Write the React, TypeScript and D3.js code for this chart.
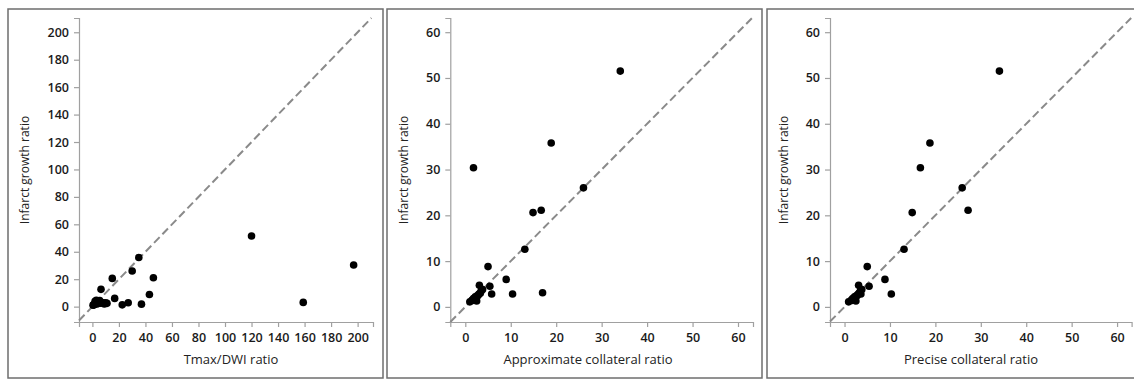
import React, { useEffect, useRef } from 'react';
import * as d3 from 'd3';

// Infarct growth ratio per patient (shared y values)
const infarctGrowth = [51.5, 35.8, 30.4, 26.0, 21.1, 20.6, 12.6, 8.8, 6.0, 4.5, 2.8, 3.1, 2.8, 4.7, 1.1, 1.3, 2.8, 1.8, 1.5, 2.2, 3.5, 2.5, 3.0, 1.9, 2.4, 3.8, 1.4, 2.0];

// x values for each panel, same patient order
const tmaxDwi = [120, 35, 197, 30, 46, 15, 6.5, 43, 16.8, 5.5, 8, 159, 10, 3, 0.5, 22.5, 27, 37, 1.5, 2.5, 4, 6, 7, 9, 11, 2, 1, 3.5];
const approxCollateral = [34.1, 18.9, 1.8, 26, 16.7, 14.9, 13.1, 5.0, 9.0, 5.4, 10.4, 17.0, 5.8, 3.1, 1.0, 2.5, 3.0, 1.8, 1.5, 2.2, 3.5, 2.8, 3.3, 2.0, 2.6, 3.8, 1.6, 2.3];
const preciseCollateral = [34.1, 18.8, 16.7, 25.9, 27.2, 14.9, 13.1, 5.0, 8.9, 5.4, 10.3, 3.3, 3.6, 3.1, 0.9, 2.5, 3.0, 1.8, 1.5, 2.2, 3.5, 2.8, 3.3, 2.0, 2.6, 3.8, 1.6, 2.3];

const wideTicks = [0, 20, 40, 60, 80, 100, 120, 140, 160, 180, 200];
const narrowTicks = [0, 10, 20, 30, 40, 50, 60];

interface Panel {
  frameX: number;
  xTitle: string;
  titleX: number;
  xs: number[];
  ticks: number[];
  xDomain: [number, number];
  yDomain: [number, number];
  xRange: [number, number];
}

const panels: Panel[] = [
  { frameX: 8, xTitle: 'Tmax/DWI ratio', titleX: 231, xs: tmaxDwi, ticks: wideTicks, xDomain: [-10.1, 211.6], yDomain: [-11.2, 210.4], xRange: [79, 373] },
  { frameX: 387, xTitle: 'Approximate collateral ratio', titleX: 588, xs: approxCollateral, ticks: narrowTicks, xDomain: [-3.3, 63.3], yDomain: [-3.3, 63.1], xRange: [450.3, 753] },
  { frameX: 767, xTitle: 'Precise collateral ratio', titleX: 971, xs: preciseCollateral, ticks: narrowTicks, xDomain: [-3.2, 63.2], yDomain: [-3.3, 63.1], xRange: [830, 1131.6] },
];

const W = 1134;
const H = 383;

export default function App() {
  const svgRef = useRef<SVGSVGElement>(null);

  useEffect(() => {
    const svgElement = svgRef.current;
    if (!svgElement) return;
    const svg = d3.select(svgElement);
    svg.selectAll('*').remove();

    const font = '"Open Sans", "Noto Sans", sans-serif';

    panels.forEach((p) => {
      // frame
      svg.append('rect')
        .attr('x', p.frameX)
        .attr('y', 9)
        .attr('width', 375)
        .attr('height', 369)
        .attr('fill', 'white')
        .attr('stroke', '#6e6e6e')
        .attr('stroke-width', 1.5);

      const x = d3.scaleLinear().domain(p.xDomain).range(p.xRange);
      const y = d3.scaleLinear().domain(p.yDomain).range([322, 18]);

      // x axis
      const gx = svg.append('g')
        .attr('transform', 'translate(0, 322)')
        .call(d3.axisBottom(x).tickValues(p.ticks).tickSizeOuter(0).tickSize(5).tickPadding(6));
      // y axis
      const gy = svg.append('g')
        .attr('transform', `translate(${p.xRange[0]}, 0)`)
        .call(d3.axisLeft(y).tickValues(p.ticks).tickSizeOuter(0).tickSize(5).tickPadding(5));

      [gx, gy].forEach(g => {
        g.selectAll('.domain, .tick line').attr('stroke', '#a0a0a0').attr('stroke-width', 1.2);
        g.selectAll('text')
          .style('font-family', font)
          .style('font-size', '12.5px')
          .style('font-weight', '600')
          .attr('fill', '#1a1a1a');
      });

      // identity line
      const lo = Math.max(p.xDomain[0], p.yDomain[0]);
      const hi = Math.min(p.xDomain[1], p.yDomain[1]);
      svg.append('line')
        .attr('x1', x(lo))
        .attr('y1', y(lo))
        .attr('x2', x(hi))
        .attr('y2', y(hi))
        .attr('stroke', '#8a8a8a')
        .attr('stroke-width', 2)
        .attr('stroke-dasharray', '8,4');

      // points
      svg.append('g')
        .selectAll('circle')
        .data(p.xs.map((v, i) => [v, infarctGrowth[i]]))
        .enter()
        .append('circle')
        .attr('cx', d => x(d[0]))
        .attr('cy', d => y(d[1]))
        .attr('r', 3.8)
        .attr('fill', '#000');

      // titles
      svg.append('text')
        .attr('x', p.titleX)
        .attr('y', 364)
        .attr('text-anchor', 'middle')
        .style('font-family', font)
        .style('font-size', '13px')
        .attr('fill', '#222')
        .text(p.xTitle);

      svg.append('text')
        .attr('transform', `translate(${p.frameX + 21}, 170) rotate(-90)`)
        .attr('text-anchor', 'middle')
        .style('font-family', font)
        .style('font-size', '12px')
        .attr('fill', '#222')
        .text('Infarct growth ratio');
    });
  }, []);

  return (
    <svg
      ref={svgRef}
      width={W}
      height={H}
      style={{ position: 'absolute', left: 0, top: 0, background: 'white' }}
    />
  );
}
